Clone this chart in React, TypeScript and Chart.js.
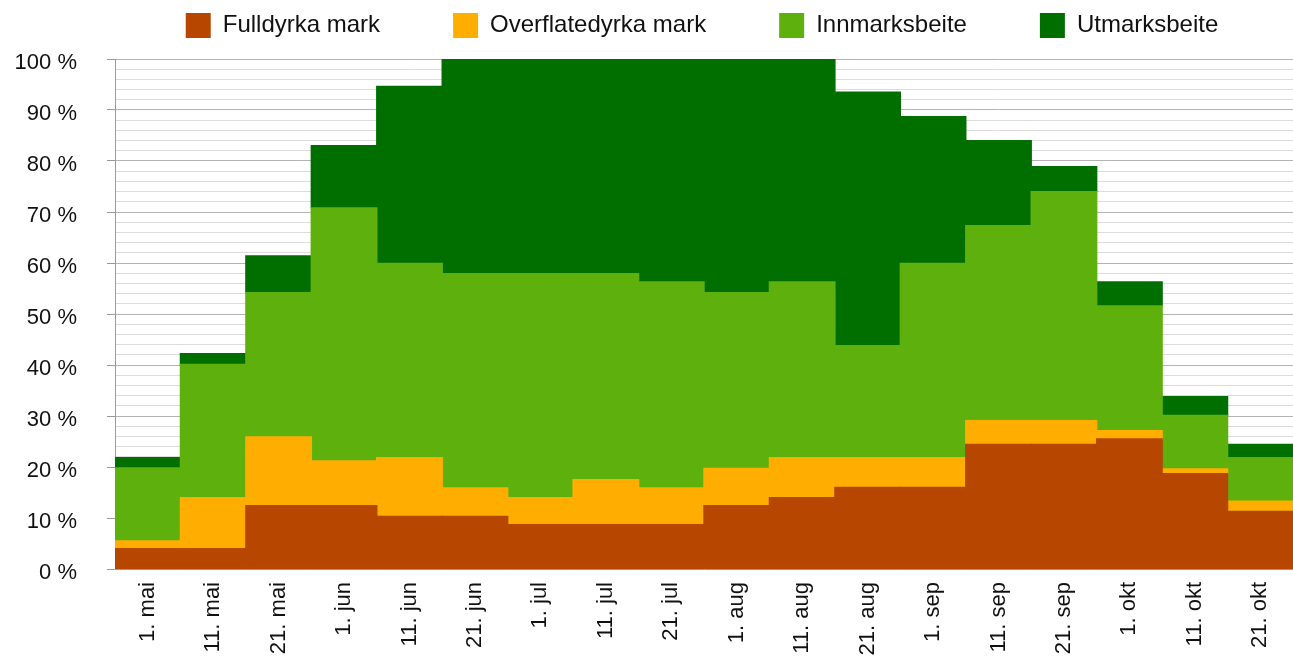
import React, { useEffect, useRef } from "react";
import { Chart, registerables } from "chart.js";

Chart.register(...registerables);

const categories = [
  "1. mai", "11. mai", "21. mai", "1. jun", "11. jun", "21. jun",
  "1. jul", "11. jul", "21. jul", "1. aug", "11. aug", "21. aug",
  "1. sep", "11. sep", "21. sep", "1. okt", "11. okt", "21. okt",
];

const fulldyrka = [4.0, 4.0, 12.4, 12.4, 10.3, 10.3, 8.7, 8.7, 8.7, 12.4, 14.0, 16.0, 16.0, 24.4, 24.4, 25.5, 18.7, 11.3];
const overflatedyrka = [1.5, 10.0, 13.5, 8.8, 11.5, 5.6, 5.3, 8.8, 7.2, 7.3, 7.8, 5.8, 5.8, 4.7, 4.7, 1.6, 0.9, 2.0];
const innmarksbeite = [14.3, 26.1, 28.3, 49.6, 38.1, 42.0, 43.9, 40.4, 40.4, 34.5, 34.5, 22.0, 38.1, 38.2, 44.9, 24.5, 10.5, 8.5];
const utmarksbeite = [2.0, 2.1, 7.2, 12.2, 34.7, 42.1, 42.1, 42.1, 43.7, 45.8, 43.7, 49.7, 28.8, 16.7, 4.9, 4.7, 3.7, 2.6];

const seriesNames = ["Fulldyrka mark", "Overflatedyrka mark", "Innmarksbeite", "Utmarksbeite"];
const seriesColors = ["#b64600", "#ffae00", "#5eb10d", "#006f00"];

const yMin = 0;
const yMax = 100;
const yStep = 2;
const yLabelEvery = 10;

const FONT = "'Liberation Sans', Arial, Helvetica, sans-serif";

export default function App() {
  const ref = useRef<HTMLCanvasElement | null>(null);

  useEffect(() => {
    if (!ref.current) return;
    const values = [fulldyrka, overflatedyrka, innmarksbeite, utmarksbeite];
    const legendSpacer = {
      id: "legendSpacer",
      beforeLayout(chart: any) {
        const lg = chart.legend;
        if (lg && !lg.__patched) {
          lg.__patched = true;
          const origFit = lg.fit.bind(lg);
          lg.fit = function () {
            const mw = this.maxWidth;
            const mh = this.maxHeight;
            this.maxWidth = 5000;
            origFit();
            this.maxWidth = mw;
            this.maxHeight = mh;
            this.width = mw;
            this.height += 11;
          };
        }
      },
      afterLayout(chart: any) {
        const lg = chart.legend;
        if (lg) {
          lg.left -= 42;
          lg.right += 38;
        }
      },
    };
    const chart = new Chart(ref.current, {
      type: "bar",
      data: {
        labels: categories,
        datasets: values.map((v, i) => ({
          label: seriesNames[i],
          data: v,
          backgroundColor: seriesColors[i],
          borderWidth: 0,
          inflateAmount: 0.7,
          categoryPercentage: 1,
          barPercentage: 1,
        })),
      },
      plugins: [legendSpacer],
      options: {
        responsive: true,
        maintainAspectRatio: false,
        animation: false,
        layout: { padding: { top: -60, left: 0, right: 0, bottom: 0 } },
        plugins: {
          tooltip: { enabled: false },
          legend: {
            position: "top",
            fullSize: false,
            align: "center",
            labels: {
              boxWidth: 25,
              boxHeight: 25,
              padding: 73,
              color: "#111",
              font: { family: FONT, size: 24 },
            },
          },
        },
        scales: {
          x: {
            stacked: true,
            grid: { display: false, drawTicks: false },
            border: { display: true, color: "#9a9a9a", width: 1 },
            ticks: {
              color: "#111",
              font: { family: FONT, size: 22 },
              minRotation: 90,
              maxRotation: 90,
              padding: 13,
              autoSkip: false,
            },
            afterFit: (s: any) => {
              s.height = 91;
              s.paddingLeft = 0;
              s.paddingRight = 0;
            },
          },
          y: {
            stacked: true,
            min: yMin,
            max: yMax,
            afterFit: (s: any) => {
              s.width = 115;
            },
            grid: {
              color: (c: any) =>
                c.tick && c.tick.value % yLabelEvery === 0 ? "#b4b4b4" : "#dcdcdc",
              tickColor: (c: any) =>
                c.tick && c.tick.value % yLabelEvery === 0 ? "#9a9a9a" : "rgba(0,0,0,0)",
              tickLength: 8,
              lineWidth: 1,
            },
            border: { display: true, color: "#9a9a9a", width: 1 },
            ticks: {
              stepSize: yStep,
              autoSkip: false,
              padding: 30,
              labelOffset: 4,
              color: "#111",
              font: { family: FONT, size: 22 },
              callback: (v: any) => (Number(v) % yLabelEvery === 0 ? `${v} %` : ""),
            },
          },
        },
      },
    } as any);
    return () => chart.destroy();
  }, []);

  return (
    <div style={{ position: "absolute", left: 0, top: 0, width: 1293, height: 660, background: "#fff" }}>
      <canvas ref={ref} />
    </div>
  );
}
